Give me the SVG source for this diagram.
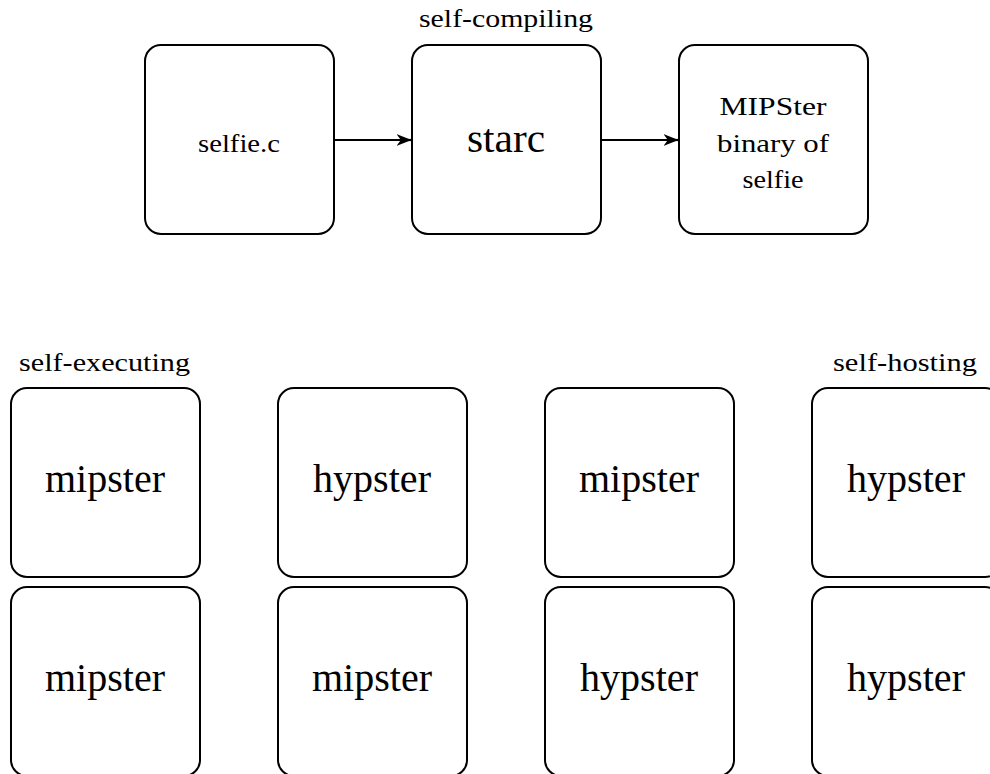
<svg xmlns="http://www.w3.org/2000/svg" width="990" height="774" viewBox="0 0 990 774">
<style>
.box{fill:#fff;stroke:#000;stroke-width:2}
text{font-family:"Liberation Serif","Times New Roman",serif;fill:#000;text-anchor:middle}
.big{font-size:40px}
.sm{font-size:26px}
.edge{stroke:#000;stroke-width:2.2;fill:none}
</style>
<defs>
<marker id="ah" viewBox="0 0 14 12" refX="13.5" refY="6" markerWidth="15" markerHeight="13" orient="auto" markerUnits="userSpaceOnUse">
<path d="M0,0.5 L14,6 L0,11.5 L4,6 Z" fill="#000"/>
</marker>
</defs>
<rect width="990" height="774" fill="#fff"/>
<g font-family="Liberation Serif, serif">
<text class="sm" x="506" y="27" textLength="174" lengthAdjust="spacingAndGlyphs">self-compiling</text>
<text class="sm" x="104.5" y="371" textLength="171" lengthAdjust="spacingAndGlyphs">self-executing</text>
<text class="sm" x="905" y="371" textLength="144" lengthAdjust="spacingAndGlyphs">self-hosting</text>
</g>
<g id="selfie_c"><rect class="box" x="145" y="45" width="189" height="189" rx="16"/><text class="sm" x="239" y="152" textLength="82" lengthAdjust="spacingAndGlyphs">selfie.c</text></g>
<g id="starc"><rect class="box" x="412" y="45" width="189" height="189" rx="16"/><text class="big" x="506" y="152" textLength="78" lengthAdjust="spacingAndGlyphs">starc</text></g>
<g id="binary"><rect class="box" x="679" y="45" width="189" height="189" rx="16"/><text class="sm" x="773" y="115" textLength="107" lengthAdjust="spacingAndGlyphs">MIPSter</text><text class="sm" x="773" y="152" textLength="112" lengthAdjust="spacingAndGlyphs">binary of</text><text class="sm" x="773" y="188" textLength="61" lengthAdjust="spacingAndGlyphs">selfie</text></g>
<g id="c1r1"><rect class="box" x="11" y="388" width="189" height="189" rx="16"/><text class="big" x="105" y="492" textLength="120" lengthAdjust="spacingAndGlyphs">mipster</text></g>
<g id="c1r2"><rect class="box" x="11" y="587" width="189" height="189" rx="16"/><text class="big" x="105" y="691" textLength="120" lengthAdjust="spacingAndGlyphs">mipster</text></g>
<g id="c2r1"><rect class="box" x="278" y="388" width="189" height="189" rx="16"/><text class="big" x="372" y="492" textLength="118" lengthAdjust="spacingAndGlyphs">hypster</text></g>
<g id="c2r2"><rect class="box" x="278" y="587" width="189" height="189" rx="16"/><text class="big" x="372" y="691" textLength="120" lengthAdjust="spacingAndGlyphs">mipster</text></g>
<g id="c3r1"><rect class="box" x="545" y="388" width="189" height="189" rx="16"/><text class="big" x="639" y="492" textLength="120" lengthAdjust="spacingAndGlyphs">mipster</text></g>
<g id="c3r2"><rect class="box" x="545" y="587" width="189" height="189" rx="16"/><text class="big" x="639" y="691" textLength="118" lengthAdjust="spacingAndGlyphs">hypster</text></g>
<g id="c4r1"><rect class="box" x="812" y="388" width="189" height="189" rx="16"/><text class="big" x="906" y="492" textLength="118" lengthAdjust="spacingAndGlyphs">hypster</text></g>
<g id="c4r2"><rect class="box" x="812" y="587" width="189" height="189" rx="16"/><text class="big" x="906" y="691" textLength="118" lengthAdjust="spacingAndGlyphs">hypster</text></g>
<g id="connectors">
<line class="edge" x1="334" y1="140" x2="404" y2="140"/>
<line class="edge" x1="404" y1="140" x2="411" y2="140" marker-end="url(#ah)"/>
<line class="edge" x1="601" y1="140" x2="671" y2="140"/>
<line class="edge" x1="671" y1="140" x2="678" y2="140" marker-end="url(#ah)"/>
</g>
</svg>
